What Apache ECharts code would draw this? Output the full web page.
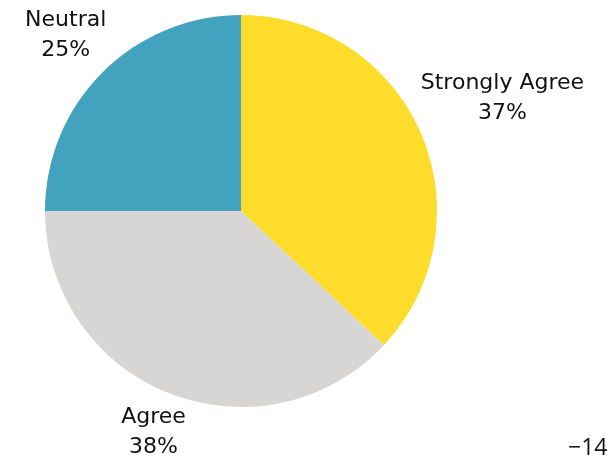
<!DOCTYPE html>
<html>
<head>
<meta charset="utf-8">
<script src="https://cdn.jsdelivr.net/npm/echarts@6/dist/echarts.min.js"></script>
<style>
  html, body { margin: 0; padding: 0; background: #ffffff; }
  #chart { width: 611px; height: 456px; }
</style>
</head>
<body>
<div id="chart"></div>
<script>
// Survey response shares
const categories = ['Strongly Agree', 'Agree', 'Neutral'];
const shares = [37, 38, 25];
const colors = ['#FEDC2B', '#D8D5D5', '#43A3BF'];

const FONT = "'DejaVu Sans', sans-serif";
const CX = 241, CY = 211, R = 196;
const GAP = 2;

const total = shares.reduce((a, b) => a + b, 0);
// mid angle of each slice, clockwise from 12 o'clock (radians)
const midAngles = [];
let acc = 0;
shares.forEach(v => {
  midAngles.push(((acc + v / 2) / total) * Math.PI * 2);
  acc += v;
});

const chart = echarts.init(document.getElementById('chart'), null, { renderer: 'canvas' });

chart.setOption({
  animation: false,
  series: [{
    type: 'pie',
    center: [CX, CY],
    radius: [0, R],
    startAngle: 90,
    clockwise: true,
    data: categories.map((name, i) => ({
      name: name,
      value: shares[i],
      itemStyle: { color: colors[i] }
    })),
    label: {
      show: true,
      position: 'outside',
      formatter: p => p.name + '\n' + p.value + '%',
      fontFamily: FONT,
      fontSize: 22,
      lineHeight: 30,
      color: '#111111',
      align: 'center',
      overflow: 'none'
    },
    labelLine: { show: false },
    // each label box sits just outside the rim along its slice's bisector
    labelLayout: function (params) {
      const a = midAngles[params.dataIndex];
      const ux = Math.sin(a), uy = -Math.cos(a);
      const hw = params.labelRect.width / 2, hh = params.labelRect.height / 2;
      const d = R + GAP + hw * Math.abs(ux) + hh * Math.abs(uy);
      return {
        x: CX + ux * d,
        y: CY + uy * d,
        align: 'center',
        verticalAlign: 'middle'
      };
    }
  }],
  graphic: [{
    type: 'text',
    left: 568,
    top: 437,
    style: {
      text: '\u221214',
      fontFamily: "'Open Sans', sans-serif",
      fontSize: 23,
      fill: '#111111'
    }
  }]
});
</script>
</body>
</html>
